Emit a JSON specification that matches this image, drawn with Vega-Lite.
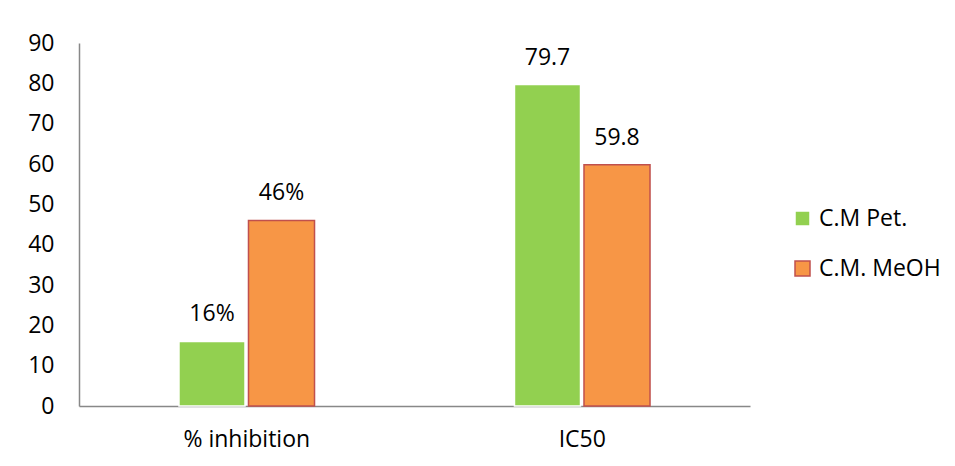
{
  "$schema": "https://vega.github.io/schema/vega-lite/v6.json",
  "width": 671,
  "height": 363,
  "autosize": {"type": "none"},
  "padding": {"left": 79, "top": 43, "right": 205, "bottom": 60},
  "background": "white",
  "config": {
    "view": {"stroke": null},
    "font": "Open Sans",
    "axis": {"labelColor": "black", "labelFont": "Open Sans", "domainColor": "#888888", "domainWidth": 1.5}
  },
  "data": {
    "values": [
      {"measure": "% inhibition", "series": "C.M Pet.", "value": 16, "label": "16%"},
      {"measure": "% inhibition", "series": "C.M. MeOH", "value": 46, "label": "46%"},
      {"measure": "IC50", "series": "C.M Pet.", "value": 79.7, "label": "79.7"},
      {"measure": "IC50", "series": "C.M. MeOH", "value": 59.8, "label": "59.8"}
    ]
  },
  "encoding": {
    "x": {
      "field": "measure",
      "type": "nominal",
      "sort": null,
      "scale": {"paddingInner": 0.596, "paddingOuter": 0.298},
      "axis": {"title": null, "labelAngle": 0, "ticks": false, "labelFontSize": 23, "labelPadding": 22}
    },
    "xOffset": {
      "field": "series",
      "sort": null,
      "scale": {"paddingInner": 0.05, "paddingOuter": 0}
    },
    "y": {
      "field": "value",
      "type": "quantitative",
      "scale": {"domain": [0, 90], "nice": false},
      "axis": {
        "title": null,
        "grid": false,
        "ticks": false,
        "values": [0, 10, 20, 30, 40, 50, 60, 70, 80, 90],
        "labelFontSize": 23,
        "labelPadding": 25
      }
    }
  },
  "layer": [
    {
      "mark": {"type": "bar", "strokeWidth": 1.5},
      "encoding": {
        "color": {
          "field": "series",
          "type": "nominal",
          "sort": null,
          "scale": {"range": ["#92d050", "#f79646"]},
          "legend": {
            "title": null,
            "orient": "none",
            "legendX": 712,
            "legendY": 164,
            "symbolType": "square",
            "symbolSize": 225,
            "symbolStrokeWidth": 1.5,
            "labelFontSize": 23,
            "labelColor": "black",
            "labelOffset": 5,
            "rowPadding": 26
          }
        },
        "stroke": {
          "field": "series",
          "type": "nominal",
          "sort": null,
          "scale": {"range": ["#ffffff", "#c0504d"]},
          "legend": null
        }
      }
    },
    {
      "mark": {"type": "text", "baseline": "middle", "dy": -27, "fontSize": 23, "color": "black"},
      "encoding": {"text": {"field": "label"}}
    }
  ]
}
